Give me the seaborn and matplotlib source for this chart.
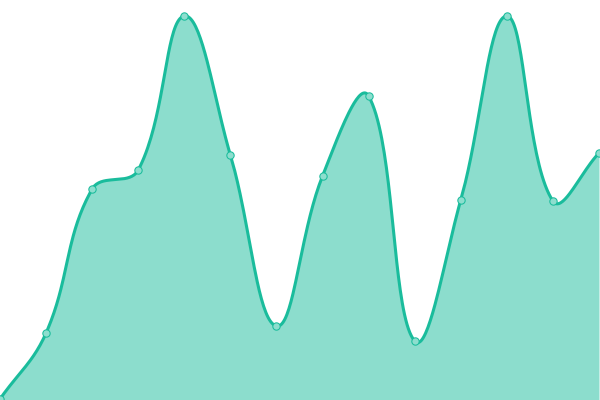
import numpy as np
import pandas as pd
import matplotlib
matplotlib.use("Agg")
import matplotlib.pyplot as plt
import seaborn as sns

# values (px heights above the bottom edge)
idx = list(range(14))
values = [1, 67, 211, 230, 384, 245, 74, 224, 304, 59, 200, 384, 199, 247]

LINE = "#1abc9c"
FILL = (26 / 255, 188 / 255, 156 / 255, 0.5)
POINT = "#8ddece"
TENSION = 0.4


def spline_curve(xs, ys, tension, steps=40):
    """chart.js style cubic bezier through the points (tension based)"""
    pts = np.column_stack([xs, ys]).astype(float)
    n = len(pts)
    cp_prev = pts.copy()
    cp_next = pts.copy()
    for i in range(n):
        prev = pts[i - 1] if i > 0 else pts[i]
        nxt = pts[i + 1] if i < n - 1 else pts[i]
        d01 = np.hypot(*(pts[i] - prev))
        d12 = np.hypot(*(nxt - pts[i]))
        tot = d01 + d12
        s01 = d01 / tot if tot else 0
        s12 = d12 / tot if tot else 0
        cp_prev[i] = pts[i] - tension * s01 * (nxt - prev)
        cp_next[i] = pts[i] + tension * s12 * (nxt - prev)
    out = [pts[0]]
    t = np.linspace(0, 1, steps)[1:, None]
    for i in range(n - 1):
        p0, p1, p2, p3 = pts[i], cp_next[i], cp_prev[i + 1], pts[i + 1]
        seg = ((1 - t) ** 3) * p0 + 3 * ((1 - t) ** 2) * t * p1 + 3 * (1 - t) * t ** 2 * p2 + t ** 3 * p3
        out.extend(seg)
    return np.array(out)


sns.set_style("white")
fig, ax = plt.subplots(figsize=(6, 4), dpi=100)
fig.subplots_adjust(left=0, right=1, bottom=0, top=1)

# work in pixel units so the spline matches the canvas geometry
px_step = 599 / 13
curve = spline_curve(np.array(idx) * px_step, values, TENSION)
curve_df = pd.DataFrame({"x": curve[:, 0] / px_step, "y": curve[:, 1]})

ax.fill_between(curve_df["x"], curve_df["y"], 0, color=FILL, linewidth=0)
sns.lineplot(data=curve_df, x="x", y="y", sort=False, color=LINE, linewidth=2.2, ax=ax)
sns.scatterplot(x=idx, y=values, s=28, color=POINT, edgecolor=LINE, linewidth=0.75, ax=ax, zorder=5)

ax.set_xlim(0, 13 * 600 / 599)
ax.set_ylim(0, 400)
ax.set_axis_off()

fig.savefig("out.png", dpi=100)
